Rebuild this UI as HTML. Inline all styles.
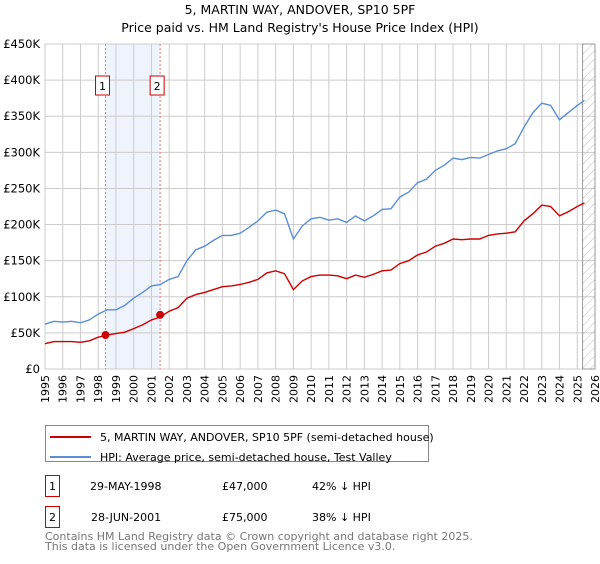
<!DOCTYPE html>
<html><head><meta charset="utf-8"><style>
body{margin:0;background:#fff;font-family:"DejaVu Sans","Liberation Sans",sans-serif;}
svg text{font-family:"DejaVu Sans","Liberation Sans",sans-serif;}
</style></head><body>
<svg id="c" width="600" height="560" xmlns="http://www.w3.org/2000/svg">
<defs><pattern id="h" width="6" height="6" patternUnits="userSpaceOnUse" patternTransform="rotate(45)"><line x1="0" y1="0" x2="0" y2="6" stroke="#bbb" stroke-width="1"/></pattern></defs>
<text x="300" y="14" text-anchor="middle" font-size="12.5">5, MARTIN WAY, ANDOVER, SP10 5PF</text>
<text x="300" y="32" text-anchor="middle" font-size="12.5">Price paid vs. HM Land Registry's House Price Index (HPI)</text>
<g id="grid"></g><g id="marks"></g>
<rect x="45.5" y="425.5" width="383" height="36" fill="#fff" stroke="#888"/>
<line x1="50" y1="437" x2="91" y2="437" stroke="#cc0000" stroke-width="2"/>
<text x="100" y="441" font-size="11">5, MARTIN WAY, ANDOVER, SP10 5PF (semi-detached house)</text>
<line x1="50" y1="457" x2="91" y2="457" stroke="#5b8ed6" stroke-width="2"/>
<text x="100" y="461" font-size="11">HPI: Average price, semi-detached house, Test Valley</text>
<g font-size="11">
<rect x="45.5" y="475.5" width="14" height="21" fill="#fff" stroke="#cc0000"/><text x="52.5" y="490" text-anchor="middle">1</text>
<text x="90" y="490">29-MAY-1998</text><text x="222" y="490">£47,000</text><text x="312" y="490">42% ↓ HPI</text></g>
<g font-size="11">
<rect x="45.5" y="506.5" width="14" height="21" fill="#fff" stroke="#cc0000"/><text x="52.5" y="521" text-anchor="middle">2</text>
<text x="91" y="521">28-JUN-2001</text><text x="222" y="521">£75,000</text><text x="312" y="521">38% ↓ HPI</text></g>
<text x="45" y="540" font-size="11" fill="#777">Contains HM Land Registry data © Crown copyright and database right 2025.</text>
<text x="45" y="550" font-size="11" fill="#777">This data is licensed under the Open Government Licence v3.0.</text>
</svg>
<script>
const years=[1995,1995.5,1996,1996.5,1997,1997.5,1998,1998.5,1999,1999.5,2000,2000.5,2001,2001.5,2002,2002.5,2003,2003.5,2004,2004.5,2005,2005.5,2006,2006.5,2007,2007.5,2008,2008.5,2009,2009.5,2010,2010.5,2011,2011.5,2012,2012.5,2013,2013.5,2014,2014.5,2015,2015.5,2016,2016.5,2017,2017.5,2018,2018.5,2019,2019.5,2020,2020.5,2021,2021.5,2022,2022.5,2023,2023.5,2024,2024.5,2025,2025.4];
const hpi=[62,66,65,66,64,68,76,82,82,88,98,106,115,117,124,128,150,165,170,178,185,185,188,196,205,217,220,215,180,198,208,210,206,208,203,212,205,212,221,222,238,245,258,263,275,282,292,290,293,292,297,302,305,312,335,355,368,365,345,355,365,372];
const price=[35,38,38,38,37,39,44,47,49,51,56,61,68,72,80,85,98,103,106,110,114,115,117,120,124,133,136,132,110,122,128,130,130,129,125,130,127,131,136,137,146,150,158,162,170,174,180,179,180,180,185,187,188,190,205,215,227,225,212,218,225,230];
const saleYears=[1998.41,2001.49];
const saleValues=[47000,75000];
const yTicks=[0,50,100,150,200,250,300,350,400,450];
const xTicks=[];for(let y=1995;y<=2026;y++)xTicks.push(y);
const X=y=>45+(y-1995)*(550/31), Y=v=>369-v*(325/450);
const NS="http://www.w3.org/2000/svg";
const g=document.getElementById('grid'), m=document.getElementById('marks');
function mk(p,t,a){const e=document.createElementNS(NS,t);for(const k in a)e.setAttribute(k,a[k]);p.appendChild(e);return e;}
const band=mk(g,'rect',{x:X(saleYears[0]),y:Y(450),width:X(saleYears[1])-X(saleYears[0]),height:Y(0)-Y(450),fill:'#eef3fc'});


xTicks.forEach(y=>{const l=mk(g,'line',{x1:X(y),x2:X(y),y1:Y(450),y2:Y(0),stroke:'#ccc'});


const t=mk(g,'text',{x:0,y:0,'font-size':11,'text-anchor':'end',transform:`translate(${X(y)+4},${Y(0)+6}) rotate(-90)`});t.textContent=y;

});
yTicks.forEach(v=>{const l=mk(g,'line',{x1:45,x2:X(2026),y1:Y(v),y2:Y(v),stroke:'#ccc'});


const t=mk(g,'text',{x:40,y:Y(v)+4,'font-size':11.5,'text-anchor':'end'});t.textContent=v?'£'+v+'K':'£0';

});
const hz=mk(g,'rect',{x:X(2025.3),y:Y(450),width:X(2026)-X(2025.3),height:Y(0)-Y(450),fill:'url(#h)',stroke:'#999'});


saleYears.forEach((sy,i)=>{const l=mk(g,'line',{x1:X(sy),x2:X(sy),y1:Y(450),y2:Y(0),stroke:'#f08080','stroke-dasharray':'2,2'});


const cx=X(sy)-3;const r=mk(g,'rect',{x:cx-7,y:76,width:14,height:19,fill:'#fff',stroke:'#cc0000'});


const t=mk(g,'text',{x:cx,y:90,'font-size':11,'text-anchor':'middle'});t.textContent=i+1;

});
function line(arr,col,name){const p=mk(m,'path',{d:arr.map((v,i)=>(i?'L':'M')+X(years[i]).toFixed(1)+','+Y(v).toFixed(1)).join(''),fill:'none',stroke:col,'stroke-width':1.4});

}
line(hpi,'#5b8ed6','hpi-line');line(price,'#cc0000','price-line');
saleYears.forEach((sy,i)=>{const c=mk(m,'circle',{cx:X(sy),cy:Y(saleValues[i]/1000),r:4,fill:'#cc0000'});

});
</script>
</body></html>
